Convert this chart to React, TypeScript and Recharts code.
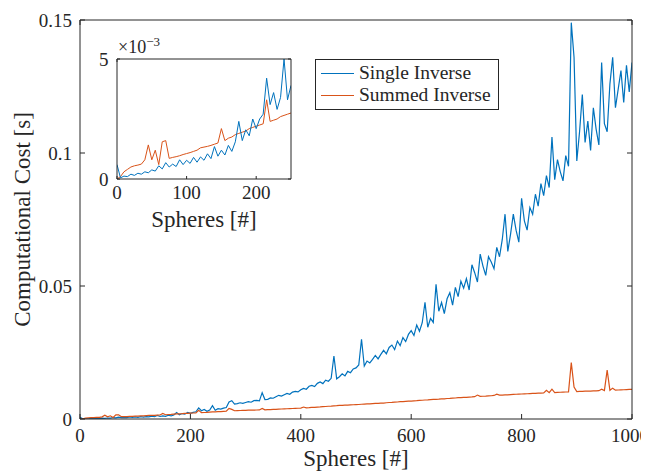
import { LineChart, Line, XAxis, YAxis, Legend, Label } from 'recharts';

const FONT = "'Liberation Serif', 'Times New Roman', serif";
const INK = '#262626';
const BLUE = '#0072BD';
const ORANGE = '#D95319';

// sample positions: every 5 spheres from 0 to 1000
const SPHERES = Array.from({ length: 201 }, (_, i) => i * 5);

// computational cost in milliseconds
const SINGLE_MS = [
  0.6, 0.05, 0.12, 0.1, 0.2, 0.15, 0.24, 0.2, 0.3, 0.26,
  0.38, 0.33, 0.55, 0.42, 0.68, 0.5, 0.62, 0.52, 0.8, 0.6,
  0.78, 0.65, 0.9, 0.7, 0.92, 0.78, 1.05, 0.85, 1.35, 0.95,
  1.2, 1.0, 1.4, 1.15, 1.55, 2.4, 1.6, 2.05, 1.8, 2.5,
  2.1, 2.5, 2.7, 4.2, 3.1, 3.6, 2.9, 3.4, 5.0, 3.3,
  3.9, 3.7, 4.1, 4.3, 6.4, 6.9, 5.6, 5.8, 6.1, 5.9,
  6.2, 6.5, 6.3, 6.9, 7.0, 6.8, 9.9, 7.3, 7.4, 7.9,
  7.8, 8.4, 8.9, 8.6, 9.1, 9.6, 9.3, 10.1, 10.4, 10.2,
  11.0, 11.5, 11.2, 12.3, 12.6, 12.2, 13.4, 13.9, 13.3, 14.6,
  14.2, 15.3, 23.7, 15.1, 15.9, 17.0, 16.2, 17.9, 17.4, 18.8,
  19.2, 20.3, 30.0, 19.9, 21.8, 21.1, 22.4, 23.9, 22.6, 24.3,
  25.8, 24.5, 26.9, 27.8, 26.1, 29.3, 27.6, 30.6, 29.1, 31.8,
  33.2, 31.4, 35.3, 33.0, 36.2, 43.9, 34.5, 37.8, 36.3, 50.6,
  40.5, 43.8, 39.6, 45.2, 47.5, 42.8, 49.5, 46.0, 51.8, 49.2,
  52.8, 48.5, 58.0, 55.0, 51.5, 62.0, 57.5, 54.0, 61.0, 59.0,
  56.5, 64.5, 61.0, 67.5, 77.0, 63.0, 69.5, 77.0, 71.0, 66.5,
  83.0, 74.5, 71.0, 79.5, 77.0, 84.5, 80.0, 88.5, 84.0, 91.5,
  87.0, 106.0, 90.0, 97.5, 93.0, 89.5, 99.0, 95.0, 149.0, 136.0,
  97.0, 108.0, 122.0, 104.0, 112.0, 101.0, 117.0, 109.0, 103.0, 134.0,
  111.0, 108.0, 126.0, 136.0, 117.0, 124.0, 131.0, 119.0, 133.0, 123.0,
  134.0,
];

const SUMMED_MS = [
  0, 0.1, 0.3, 0.4, 0.5, 0.55, 0.58, 0.62, 0.8, 1.42,
  0.8, 1.2, 0.6, 1.55, 1.6, 0.86, 0.9, 0.93, 0.97, 1.02,
  1.06, 1.1, 1.15, 1.2, 1.3, 1.33, 1.36, 1.4, 1.45, 1.5,
  2.1, 1.6, 1.7, 1.75, 1.85, 1.9, 1.95, 2.0, 2.1, 2.15,
  2.2, 2.25, 2.3, 3.3, 2.4, 2.45, 2.5, 2.6, 2.65, 2.7,
  2.75, 2.8, 2.85, 2.9, 4.0, 3.6, 3.1, 3.15, 3.2, 3.22,
  3.25, 3.3, 3.32, 3.35, 3.38, 3.4, 4.0, 3.45, 3.5, 3.55,
  3.6, 3.65, 3.7, 3.75, 3.8, 3.85, 3.9, 3.95, 4.0, 4.05,
  4.1, 4.5, 4.2, 4.25, 4.35, 4.4, 4.5, 4.55, 4.65, 4.7,
  4.8, 4.85, 4.95, 5.0, 5.1, 5.15, 5.2, 5.25, 5.3, 5.35,
  5.4, 5.45, 5.55, 5.6, 5.65, 5.7, 5.8, 5.85, 5.9, 5.95,
  6.0, 6.1, 6.2, 6.25, 6.35, 6.4, 6.5, 6.55, 6.65, 6.7,
  6.75, 6.85, 6.9, 7.0, 7.05, 7.15, 7.2, 7.3, 7.35, 7.4,
  7.45, 7.55, 7.6, 7.7, 7.75, 7.85, 7.9, 8.05, 8.0, 8.1,
  8.15, 8.25, 8.3, 8.4, 9.0, 8.5, 8.55, 8.6, 8.7, 8.75,
  8.85, 9.3, 8.95, 9.0, 9.05, 9.1, 9.2, 9.25, 9.3, 9.35,
  9.4, 9.45, 9.5, 9.55, 9.6, 9.65, 9.7, 9.75, 9.8, 10.8,
  9.9, 11.2, 9.95, 10.0, 10.05, 10.1, 10.15, 10.2, 21.2, 12.0,
  10.3, 10.35, 10.4, 10.45, 10.5, 10.5, 10.55, 10.6, 10.65, 11.2,
  10.7, 18.4, 10.8, 11.6, 10.85, 10.9, 10.95, 11.0, 11.05, 11.1,
  11.1,
];

const X_TICKS = [0, 200, 400, 600, 800, 1000];
const Y_TICKS = [0, 0.05, 0.1, 0.15];
const INSET_X_TICKS = [0, 100, 200];
const INSET_Y_TICKS = [0, 5];
const INSET_MAX_SPHERES = 250;

const mainData = SPHERES.map((n, i) => ({
  n,
  single: SINGLE_MS[i] / 1000,
  summed: SUMMED_MS[i] / 1000,
}));

const insetData = SPHERES.map((n, i) => ({ n, single: SINGLE_MS[i], summed: SUMMED_MS[i] }))
  .filter((d) => d.n <= INSET_MAX_SPHERES);

const tickStyle = { fill: INK, fontSize: 19, fontFamily: FONT };
const axisLine = { stroke: INK, strokeWidth: 1 };
const blank = () => '';

function LegendBox(props: any) {
  const items = props.payload || [];
  return (
    <div
      style={{
        boxSizing: 'border-box',
        width: 184,
        height: 51,
        border: `1px solid ${INK}`,
        background: '#fff',
        padding: '2px 0 0 5px',
        fontFamily: FONT,
        fontSize: 19.5,
        color: INK,
      }}
    >
      {items.map((it: any) => (
        <div key={it.value} style={{ display: 'flex', alignItems: 'center', height: 22 }}>
          <span style={{ width: 33, borderTop: `1.3px solid ${it.color}`, marginRight: 5 }} />
          <span style={{ lineHeight: '22px', whiteSpace: 'nowrap' }}>{it.value}</span>
        </div>
      ))}
    </div>
  );
}

function Exponent(props: any) {
  const vb = props.viewBox || { x: 0, y: 0, width: 0 };
  return (
    <text x={vb.x + vb.width + 1} y={vb.y - 6} fill={INK} fontFamily={FONT} fontSize={18}>
      ×10
      <tspan dy={-7} fontSize={13}>−3</tspan>
    </text>
  );
}

function Inset() {
  return (
    <LineChart width={215} height={200} data={insetData} margin={{ top: 23, right: 8, bottom: 0, left: 0 }}>
      <XAxis
        dataKey="n"
        type="number"
        domain={[0, INSET_MAX_SPHERES]}
        ticks={INSET_X_TICKS}
        allowDataOverflow
        height={56}
        tick={tickStyle}
        tickSize={-3}
        tickMargin={10}
        tickLine={axisLine}
        axisLine={axisLine}
      >
        <Label value="Spheres [#]" position="insideBottom" offset={8} fill={INK} fontSize={23} fontFamily={FONT} />
      </XAxis>
      <XAxis
        xAxisId="top"
        orientation="top"
        type="number"
        domain={[0, INSET_MAX_SPHERES]}
        ticks={INSET_X_TICKS}
        allowDataOverflow
        height={1}
        tickFormatter={blank}
        tickSize={-3}
        tickLine={axisLine}
        axisLine={axisLine}
      />
      <YAxis
        type="number"
        domain={[0, 5]}
        ticks={INSET_Y_TICKS}
        allowDataOverflow
        width={32}
        tick={tickStyle}
        tickSize={-3}
        tickMargin={11.5}
        tickLine={axisLine}
        axisLine={axisLine}
      >
        <Label content={<Exponent />} position="top" />
      </YAxis>
      <YAxis
        yAxisId="right"
        orientation="right"
        type="number"
        domain={[0, 5]}
        ticks={INSET_Y_TICKS}
        allowDataOverflow
        width={1}
        tickFormatter={blank}
        tickSize={-3}
        tickLine={axisLine}
        axisLine={axisLine}
      />
      <Line dataKey="summed" stroke={ORANGE} strokeWidth={1} dot={false} isAnimationActive={false} />
      <Line dataKey="single" stroke={BLUE} strokeWidth={1} dot={false} isAnimationActive={false} />
    </LineChart>
  );
}

export default function App() {
  return (
    <div style={{ position: 'relative', width: 649, height: 476, margin: '-8px 0 0 -8px', background: '#fff', overflow: 'hidden' }}>
      <LineChart width={649} height={476} data={mainData} margin={{ top: 19, right: 16, bottom: 0, left: 0 }}>
        <XAxis
          dataKey="n"
          type="number"
          domain={[0, 1000]}
          ticks={X_TICKS}
          allowDataOverflow
          height={57}
          tick={tickStyle}
          tickSize={-5}
          tickMargin={15}
          tickLine={axisLine}
          axisLine={axisLine}
        >
          <Label value="Spheres [#]" position="insideBottom" offset={10} fill={INK} fontSize={23} fontFamily={FONT} />
        </XAxis>
        <XAxis
          xAxisId="top"
          orientation="top"
          type="number"
          domain={[0, 1000]}
          ticks={X_TICKS}
          allowDataOverflow
          height={1}
          tickFormatter={blank}
          tickSize={-5}
          tickLine={axisLine}
          axisLine={axisLine}
        />
        <YAxis
          type="number"
          domain={[0, 0.15]}
          ticks={Y_TICKS}
          allowDataOverflow
          width={80}
          tick={tickStyle}
          tickSize={-5}
          tickMargin={13}
          tickLine={axisLine}
          axisLine={axisLine}
        >
          <Label
            value="Computational Cost [s]"
            angle={-90}
            position="insideLeft"
            offset={22}
            fill={INK}
            fontSize={23}
            fontFamily={FONT}
            style={{ textAnchor: 'middle' }}
          />
        </YAxis>
        <YAxis
          yAxisId="right"
          orientation="right"
          type="number"
          domain={[0, 0.15]}
          ticks={Y_TICKS}
          allowDataOverflow
          width={1}
          tickFormatter={blank}
          tickSize={-5}
          tickLine={axisLine}
          axisLine={axisLine}
        />
        <Legend
          layout="vertical"
          align="center"
          verticalAlign="middle"
          content={<LegendBox />}
          wrapperStyle={{ left: 315, top: 59, width: 184, height: 51 }}
        />
        <Line name="Single Inverse" dataKey="single" stroke={BLUE} strokeWidth={1.2} dot={false} isAnimationActive={false} />
        <Line name="Summed Inverse" dataKey="summed" stroke={ORANGE} strokeWidth={1.2} dot={false} isAnimationActive={false} />
      </LineChart>
      <div style={{ position: 'absolute', left: 85, top: 35 }}>
        <Inset />
      </div>
    </div>
  );
}
